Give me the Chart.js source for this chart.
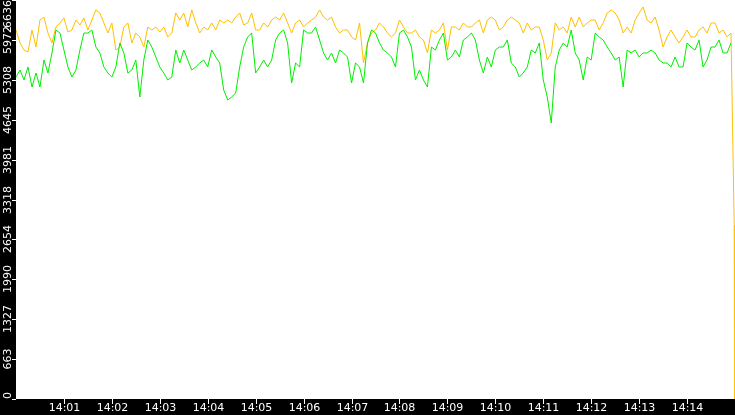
<!DOCTYPE html>
<html>
<head>
<meta charset="utf-8">
<script src="https://cdn.jsdelivr.net/npm/chart.js@4"></script>
<style>
  html, body { margin: 0; padding: 0; background: #000; }
  #wrap { width: 735px; height: 415px; }
</style>
</head>
<body>
<div id="wrap"><canvas id="c"></canvas></div>
<script>
// one sample every 5 s from 14:00:00
const stepSec = 5;
const orangeValues = [
  6137,5921,5804,5771,6137,5854,6303,6353,6087,5921,6187,6254,6337,6104,6137,6303,6220,6337,6137,6303,6470,6420,6254,6087,6254,5804,5854,6187,6254,5921,6087,6021,5854,6187,6137,6187,6104,6187,6021,6087,6420,6303,6420,6187,6470,
  6254,6087,6187,6137,6254,6137,6303,6254,6303,6254,6353,6420,6220,6254,6420,6137,6137,6254,6187,6303,6353,6303,6420,6254,6087,6254,6303,6187,6254,6303,6353,6470,6353,6303,6353,6187,6087,6137,6137,6021,5971,6254,5588,5921,6087,
  6137,6254,6187,6087,6021,6087,6303,6187,6087,6087,6137,6021,5971,5755,6137,6087,6137,6254,5804,6187,6187,6137,6254,6187,6187,6254,6303,6087,6303,6353,6303,6137,6187,6303,6353,6303,6254,6087,6254,6137,6187,6187,5971,5638,5755,
  6254,6137,6187,6087,6353,6187,6353,6187,6254,6303,6303,6137,6254,6420,6470,6420,6303,6087,6187,6087,6303,6420,6520,6303,6254,6353,6137,5854,6021,6137,6021,5921,6021,6137,6021,6021,6137,6187,6087,6254,6254,6087,6137,6021,6087
];
const greenValues = [
  5355,5472,5306,5522,5189,5422,5189,5638,5422,5755,6137,6087,5804,5522,5355,5472,5804,6087,6087,6137,5854,5755,5522,5422,5355,5522,5921,5755,5422,5472,5638,5023,5638,5971,5854,5688,5522,5422,5306,5355,5804,5588,5804,5638,5472,
  5522,5588,5638,5522,5804,5688,5588,5139,4973,5023,5089,5522,5854,6021,6087,5422,5522,5638,5522,5638,5971,6087,6137,5921,5256,5588,5522,6137,6087,6087,6187,5971,5755,5638,5755,5588,5804,5755,5688,5256,5588,5522,5256,5921,6137,
  6087,5921,5804,5755,5688,5522,6087,6137,6021,5854,5306,5472,5306,5189,5854,5804,5971,6087,5638,5688,5804,5688,5971,6021,6087,5971,5638,5422,5688,5522,5804,5854,5854,5971,5588,5522,5355,5422,5522,5804,5755,5921,5306,5023,4590,
  5522,5804,5921,5854,6137,5755,5638,5306,5688,5638,6087,6021,5971,5854,5755,5638,5688,5189,5804,5755,5804,5688,5755,5755,5804,5755,5638,5588,5588,5522,5688,5522,5522,5921,5854,5804,5971,5522,5638,5854,5854,5971,5755,5755,5921
];
// the orange series ends with a drop
const orangeTail = [[899, 2890], [899.5, 0]];
const yTickValues = [0, 663.6, 1327.2, 1990.8, 2654.4, 3318, 3981.6, 4645.2, 5308.8, 5972.4, 6636];
const yTickLabels = ['0', '663', '1327', '1990', '2654', '3318', '3981', '4645', '5308', '5972', '6636'];
const xTickSeconds = [60, 120, 180, 240, 300, 360, 420, 480, 540, 600, 660, 720, 780, 840];
const xTickLabels = ['14:01', '14:02', '14:03', '14:04', '14:05', '14:06', '14:07', '14:08', '14:09', '14:10', '14:11', '14:12', '14:13', '14:14'];

const toPoints = (vals) => vals.map((v, i) => ({ x: i * stepSec, y: v }));
const orangePts = toPoints(orangeValues).concat(orangeTail.map(([x, y]) => ({ x, y })));
const greenPts = toPoints(greenValues);

const frame = {
  id: 'frame',
  beforeDraw(chart) {
    const { ctx, chartArea: a } = chart;
    ctx.save();
    ctx.fillStyle = '#000';
    ctx.fillRect(0, 0, chart.width, chart.height);
    ctx.fillStyle = '#fff';
    ctx.fillRect(a.left, a.top, a.right - a.left, a.bottom - a.top);
    ctx.restore();
  },
  afterDraw(chart) {
    const { ctx, chartArea: a, scales } = chart;
    ctx.save();
    ctx.fillStyle = '#fff';
    ctx.strokeStyle = '#fff';
    ctx.lineWidth = 1;
    ctx.font = '11px "DejaVu Sans"';
    // y axis: rotated labels
    yTickValues.forEach((v, i) => {
      const py = Math.round(scales.y.getPixelForValue(v));
      ctx.beginPath();
      ctx.moveTo(a.left - 4, py + 0.5);
      ctx.lineTo(a.left, py + 0.5);
      ctx.stroke();
      ctx.save();
      ctx.translate(8, py);
      ctx.rotate(-Math.PI / 2);
      ctx.textAlign = i === yTickValues.length - 1 ? 'right' : i === 0 ? 'left' : 'center';
      ctx.textBaseline = 'middle';
      ctx.fillText(yTickLabels[i], 0, 0);
      ctx.restore();
    });
    // x axis
    ctx.textAlign = 'center';
    ctx.textBaseline = 'top';
    xTickSeconds.forEach((s, i) => {
      const px = Math.round(scales.x.getPixelForValue(s)) + 0.5;
      ctx.beginPath();
      ctx.moveTo(px, a.bottom);
      ctx.lineTo(px, a.bottom + 5);
      ctx.stroke();
      ctx.fillText(xTickLabels[i], px, a.bottom + 4);
    });
    ctx.restore();
  }
};

new Chart(document.getElementById('c'), {
  type: 'line',
  data: {
    datasets: [
      { data: greenPts, borderColor: '#00ee00', borderWidth: 1, pointRadius: 0, order: 0 },
      { data: orangePts, borderColor: '#ffc000', borderWidth: 1, pointRadius: 0, order: 1 },
    ],
  },
  options: {
    responsive: true,
    maintainAspectRatio: false,
    animation: false,
    layout: { padding: { left: 16, bottom: 16 } },
    plugins: { legend: { display: false }, tooltip: { enabled: false } },
    scales: {
      x: { type: 'linear', min: 0, max: 900, display: false },
      y: { min: 0, max: 6636, display: false },
    },
  },
  plugins: [frame],
});
</script>
</body>
</html>
